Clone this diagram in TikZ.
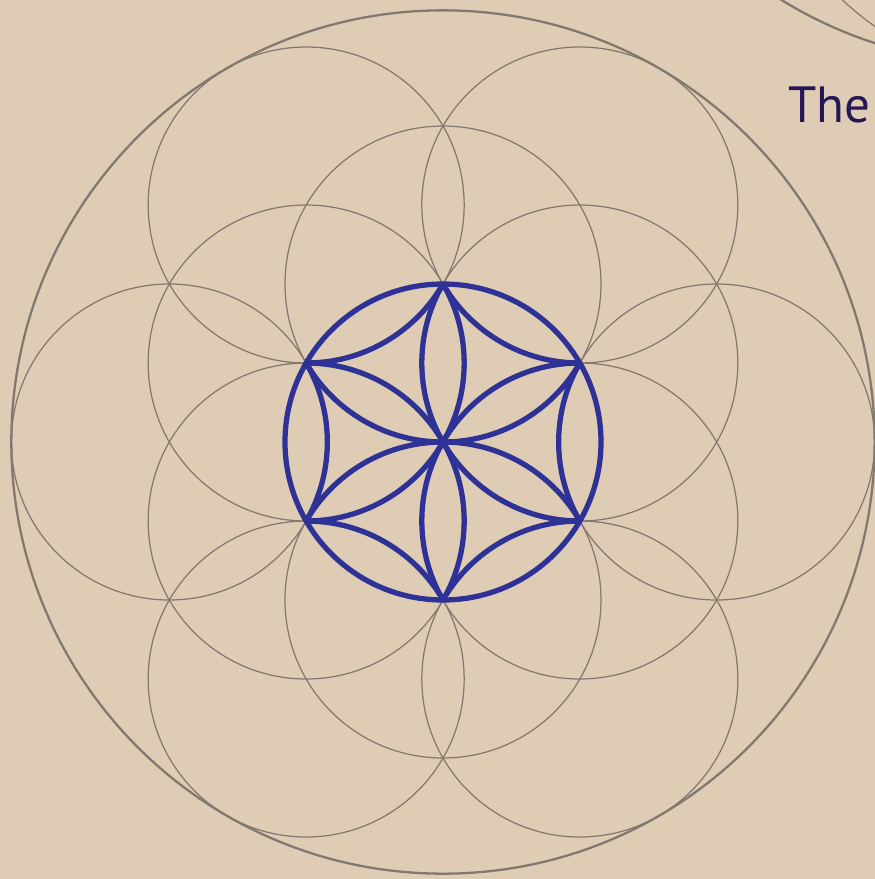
\documentclass[tikz,border=0pt]{standalone}
\usepackage{fontspec}
\usepackage{tikz}
\usetikzlibrary{calc}
\newfontfamily\captionfont{PT Sans}
\definecolor{parchment}{HTML}{DECDB4}
\definecolor{pencil}   {HTML}{81786F}
\definecolor{indigo}   {HTML}{2E3195}
\definecolor{inkviolet}{HTML}{261858}
\tikzset{
  % --- circles
  guide/.style = {draw=pencil, line width=0.35pt},
  rim/.style   = {draw=pencil, line width=0.65pt},
  seed/.style  = {draw=indigo, line width=1.5pt},
  % --- text
  title/.style = {font=\captionfont\fontsize{14.5}{17}\selectfont, text=inkviolet, inner sep=0pt},
}
\def\rr{1.58}

\begin{document}
\begin{tikzpicture}
  \fill[parchment] (0,0) rectangle (8.75,-8.79);
  \useasboundingbox (0,0) rectangle (8.75,-8.79);
  \clip (0,0) rectangle (8.75,-8.79);
  \coordinate (o) at (4.43,-4.42);
  % centres: inner ring and second ring
  \foreach \a in {30,90,...,330} \coordinate (p\a) at ($(o)+(\a:\rr)$);
  \foreach \a in {0,60,...,300} \coordinate (q\a) at ($(o)+(\a:{sqrt(3)*\rr})$);
  \foreach \a in {30,90,...,330} \draw[guide] (p\a) circle[radius=\rr];
  \foreach \a in {0,60,...,300} \draw[guide] (q\a) circle[radius=\rr];
  \draw[rim] (o) circle[radius={(1+sqrt(3))*\rr}];
  % the seed, kept inside the middle circle
  \begin{scope}
    \clip (o) circle[radius=\rr];
    \foreach \a in {30,90,...,330} \draw[seed] (p\a) circle[radius=\rr];
    \foreach \a in {0,60,...,300} \draw[seed] (q\a) circle[radius=\rr];
  \end{scope}
  \draw[seed] (o) circle[radius=\rr];
  % next figure, cut by the page edge
  \coordinate (n1) at (10.08,3.68);
  \coordinate (n2) at (10.475,2.19);
  \draw[rim] (n1) circle[radius=4.32];
  \draw[guide] (n2) circle[radius=3.0];
  \node[title, anchor=base west] (the) at (7.88,-1.22) {The};
\end{tikzpicture}
\end{document}
